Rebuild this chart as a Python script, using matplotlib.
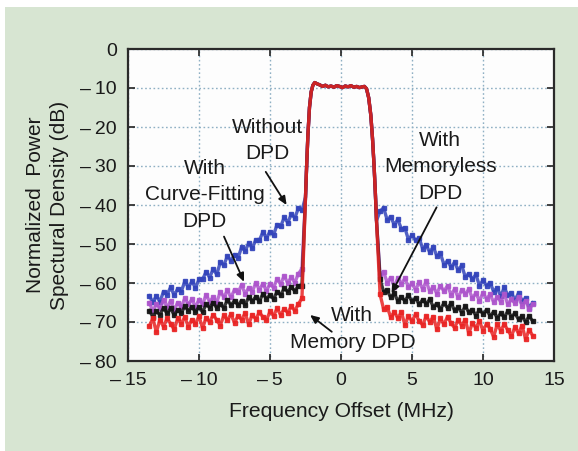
import numpy as np
import matplotlib
matplotlib.use("Agg")
import matplotlib.pyplot as plt
from matplotlib.patches import Rectangle

plt.rcParams['font.family'] = ['Liberation Sans', 'DejaVu Sans']

# Frequency grids (MHz) for the lower and upper adjacent channels
freq_lower = np.arange(-13.5, -2.74, 0.25)
freq_upper = np.arange(2.75, 13.51, 0.25)

# In-band portion shared by all traces
freq_inband = [-2.5, -2.42, -2.33, -2.22, -2.1, -1.98, -1.85, -1.7, -1.5, -1.3,
               -1.1, -0.9, -0.7, -0.5, -0.3, -0.1, 0.1, 0.3, 0.5, 0.7, 0.9, 1.1,
               1.3, 1.5, 1.65, 1.8, 1.95, 2.1, 2.22, 2.33, 2.42, 2.5]
psd_inband = [-38, -30, -22, -15, -11, -9.3, -8.6, -8.9, -9.2, -9.6,
              -9.3, -9.7, -9.5, -9.8, -9.4, -9.6, -9.9, -9.5, -9.7, -9.4, -9.8, -9.6,
              -9.9, -9.7, -9.6, -10.2, -12.5, -17, -23, -30, -37, -44]

# Without DPD
nodpd_lower = [-63.3, -64.9, -63.3, -64.8, -62.2, -63.0, -61.1, -63.1, -61.5, -62.2,
               -59.6, -61.1, -59.6, -61.2, -59.1, -59.1, -57.1, -58.6, -56.4, -57.8,
               -54.7, -55.4, -53.1, -54.3, -52.7, -53.6, -50.8, -51.8, -49.8, -51.1,
               -48.9, -49.1, -46.9, -48.5, -46.8, -47.7, -45.0, -45.5, -43.2, -44.5,
               -42.4, -43.3, -40.8, -41.4]
nodpd_upper = [-41.6, -40.7, -43.8, -43.0, -45.1, -43.7, -46.1, -45.9, -48.9, -47.7,
               -49.1, -48.4, -51.2, -50.3, -52.1, -50.7, -53.1, -52.4, -55.3, -54.3,
               -55.9, -54.7, -56.7, -55.5, -58.4, -57.6, -59.0, -57.8, -60.7, -59.3,
               -60.7, -59.9, -62.2, -61.2, -63.4, -61.1, -63.2, -62.5, -64.4, -62.6,
               -64.5, -63.9, -66.3, -65.1]

# With curve-fitting DPD
curvefit_lower = [-65.0, -67.2, -65.4, -66.5, -64.3, -66.2, -64.6, -66.9, -65.0, -66.2,
                  -63.9, -65.5, -64.2, -66.1, -64.3, -65.5, -63.0, -64.8, -63.6, -65.0,
                  -62.2, -63.6, -61.9, -63.7, -61.7, -62.4, -60.5, -62.8, -61.2, -62.2,
                  -60.0, -61.7, -60.2, -62.0, -60.2, -61.2, -59.0, -60.2, -58.2, -60.0,
                  -58.5, -59.9, -57.6, -56.4]
curvefit_upper = [-58.0, -57.1, -59.9, -58.6, -60.9, -58.8, -60.2, -58.8, -61.1, -60.1,
                  -61.8, -59.8, -61.5, -59.6, -62.1, -61.0, -62.7, -60.7, -62.1, -60.7,
                  -63.0, -61.6, -63.7, -61.8, -62.8, -61.6, -63.9, -62.6, -64.6, -62.5,
                  -64.1, -62.9, -64.9, -63.6, -64.8, -62.9, -65.5, -64.2, -65.2, -63.6,
                  -65.8, -64.5, -66.7, -65.5]

# With memoryless DPD
memoryless_lower = [-67.1, -68.6, -67.3, -68.1, -66.4, -67.8, -66.5, -68.2, -66.9, -67.7,
                    -66.0, -67.1, -66.1, -67.4, -66.1, -67.4, -65.5, -66.3, -65.0, -66.4,
                    -65.3, -66.4, -64.3, -65.7, -64.5, -65.7, -64.5, -65.6, -63.6, -64.7,
                    -63.5, -64.7, -62.8, -64.0, -63.1, -64.1, -62.2, -63.1, -61.4, -62.2,
                    -61.0, -62.1, -60.7, -60.7]
memoryless_upper = [-59.1, -62.2, -61.9, -63.7, -62.6, -64.6, -63.5, -64.6, -63.2, -64.7,
                    -63.8, -65.5, -64.3, -65.3, -64.2, -66.1, -65.3, -66.7, -65.2, -66.4,
                    -65.2, -67.0, -66.2, -67.6, -66.0, -67.5, -66.8, -68.4, -66.8, -67.9,
                    -66.9, -68.4, -67.4, -68.9, -67.8, -68.8, -67.2, -68.6, -67.8, -69.3,
                    -68.5, -70.0, -68.5, -69.8]

# With memory DPD
memory_lower = [-71.0, -69.1, -72.6, -69.4, -71.2, -69.1, -70.4, -71.9, -69.1, -70.4,
                -68.7, -71.2, -69.4, -70.5, -68.5, -71.6, -68.9, -70.0, -68.1, -69.5,
                -70.9, -68.3, -69.5, -68.0, -70.2, -68.4, -69.4, -67.7, -70.6, -68.1,
                -69.3, -67.5, -68.7, -69.5, -67.3, -68.4, -66.5, -68.2, -66.6, -67.6,
                -66.0, -67.1, -65.4, -63.9]
memory_upper = [-62.9, -66.7, -66.1, -68.8, -67.4, -69.0, -67.5, -70.7, -68.5, -69.8,
                -68.0, -69.7, -70.8, -68.5, -70.0, -68.6, -71.9, -69.1, -70.6, -68.6,
                -70.3, -71.5, -69.4, -70.9, -69.4, -72.9, -70.3, -71.5, -69.8, -72.2,
                -70.5, -71.7, -73.8, -70.6, -72.2, -70.6, -72.1, -73.6, -71.3, -72.9,
                -70.9, -74.4, -72.0, -73.5]

xticks = [-15, -10, -5, 0, 5, 10, 15]
yticks = [0, -10, -20, -30, -40, -50, -60, -70, -80]

traces = [
    (nodpd_lower, nodpd_upper, '#3344bb'),
    (curvefit_lower, curvefit_upper, '#ad55cc'),
    (memoryless_lower, memoryless_upper, '#151515'),
    (memory_lower, memory_upper, '#e92424'),
]

fig = plt.figure(figsize=(5.78, 4.51), dpi=100, facecolor='white')
fig.patches.append(Rectangle((5 / 578, 0), 1, (451 - 7) / 451,
                             transform=fig.transFigure, facecolor='#d7e5d2',
                             edgecolor='none', zorder=-10))

ax = fig.add_axes([128 / 578, 1 - 361 / 451, (554 - 128) / 578, (361 - 49) / 451])
ax.set_facecolor('#fdfdfd')

for lower, upper, color in traces:
    f = np.concatenate([freq_lower, freq_inband, freq_upper])
    p = np.concatenate([lower, psd_inband, upper])
    ax.plot(f, p, color=color, lw=2.4, alpha=0.85, zorder=3)
    ax.plot(freq_lower, lower, ls='none', marker='s', ms=2.6, color=color,
            zorder=3, alpha=0.9)
    ax.plot(freq_upper, upper, ls='none', marker='s', ms=2.6, color=color,
            zorder=3, alpha=0.9)


def fmt(v):
    return f"\u2013\u2009{abs(v)}" if v < 0 else str(v)


ax.set_xlim(-15, 15)
ax.set_ylim(-80, 0)
ax.set_xticks(xticks)
ax.set_yticks(yticks)
ax.set_xticklabels([fmt(t) for t in xticks])
ax.set_yticklabels([fmt(t) for t in yticks])
ax.tick_params(direction='in', length=5, width=1.2, top=True, right=True,
               labelsize=14, pad=8, colors='#222222', labelcolor='#1a1a1a')
ax.grid(True, ls=(0, (1.2, 1.8)), color='#8fb0c4', lw=1.0)
for s in ax.spines.values():
    s.set_linewidth(1.6)
    s.set_color('#2a2a2a')

ax.set_xlabel('Frequency Offset (MHz)', fontsize=15.2, color='#1a1a1a', labelpad=9)
ax.set_ylabel('Normalized  Power\nSpectural Density (dB)', fontsize=15,
              color='#1a1a1a', labelpad=8, linespacing=1.35)

txt = dict(fontsize=15, color='#1a1a1a', ha='center', va='center', linespacing=1.5, zorder=5)
arrow = dict(arrowstyle='-|>,head_length=0.5,head_width=0.22', color='#111111', lw=1.3,
             shrinkA=0, shrinkB=0)

ax.text(-5.2, -23.5, 'Without\nDPD', **txt)
ax.annotate('', xy=(-3.83, -40), xytext=(-5.3, -31.5), arrowprops=arrow)

ax.text(-9.6, -37.4, 'With\nCurve-Fitting\nDPD', **txt)
ax.annotate('', xy=(-6.83, -59.7), xytext=(-8.24, -48.1), arrowprops=arrow)

ax.text(7.0, -30.2, 'With\nMemoryless\nDPD', **txt)
ax.annotate('', xy=(3.56, -62.6), xytext=(6.73, -40.6), arrowprops=arrow)

ax.text(0.8, -71.8, 'With\nMemory DPD', **txt)
ax.annotate('', xy=(-2.18, -68.2), xytext=(-0.65, -72.5), arrowprops=arrow)

fig.savefig('out.png', dpi=100, facecolor=fig.get_facecolor())
